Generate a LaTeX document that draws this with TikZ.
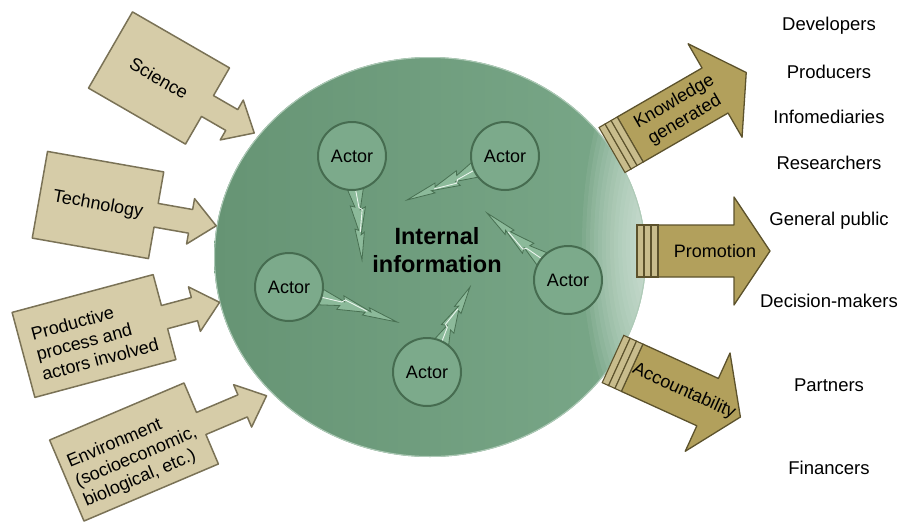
\documentclass[tikz,border=0pt]{standalone}
\usepackage{fontspec}
\setmainfont{Liberation Sans}
\usetikzlibrary{calc,shapes.geometric}
\definecolor{boxfill}{RGB}{214,204,168}
\definecolor{boxline}{RGB}{122,114,86}
\definecolor{gold}{RGB}{178,160,92}
\definecolor{goldline}{RGB}{92,82,44}
\definecolor{barfill}{RGB}{200,188,140}
\definecolor{bgD}{RGB}{102,148,116}
\definecolor{bgM}{RGB}{113,159,128}
\definecolor{bgL}{RGB}{122,168,137}
\definecolor{glow}{RGB}{235,245,238}
\definecolor{actfill}{RGB}{124,170,139}
\definecolor{actline}{RGB}{70,108,80}
\definecolor{boltfill}{RGB}{140,186,154}
\definecolor{boltline}{RGB}{72,112,82}
\tikzset{
 feedbox/.style={fill=boxfill, draw=boxline, line width=1.5pt, line join=round},
 feedtext/.style={font=\fontsize{18}{21}\selectfont, inner sep=0pt},
 outbody/.style={fill=gold, draw=goldline, line width=1.3pt, line join=round},
 outbar/.style={fill=barfill, draw=goldline, line width=1.1pt},
 outtext/.style={font=\fontsize{18}{21}\selectfont, align=center, inner sep=0pt},
 actor/.style={circle, minimum size=68pt, inner sep=0pt, fill=actfill, draw=actline, line width=2pt, font=\fontsize{18}{21}\selectfont},
 bolt/.style={fill=boltfill, draw=boltline, line width=0.8pt, line join=miter},
 audience/.style={font=\fontsize{18.5}{22}\selectfont, inner sep=0pt, anchor=base},
 core/.style={font=\bfseries\fontsize{23.5}{28}\selectfont, align=center, inner sep=0pt},
 hub/.style={ellipse, minimum width=432pt, minimum height=400pt, inner sep=0pt, left color=bgD, middle color=bgM, right color=bgL},
 glowlayer/.style={fill=glow, opacity=0.075},
}
% input arrow: name, centre, angle, half width, tip distance, text, align, text position
\newcommand\feed[8]{%
 \begin{scope}[shift={#2}, rotate=#3]
  \draw[feedbox] (-#4,-44) -- (#4,-44) -- (#4,-12) -- ({#5-26},-12) -- ({#5-26},-23) -- (#5,0) -- ({#5-26},23) -- ({#5-26},12) -- (#4,12) -- (#4,44) -- (-#4,44) -- cycle;
  \node[feedtext, transform shape, align=#7] (#1) at #8 {#6};
 \end{scope}}
% output arrow: name, start, angle, length, text
\newcommand\outarrow[5]{%
 \begin{scope}[shift={#2}, rotate=#3]
  \draw[outbody] (21,-26) -- ({#4-36},-26) -- ({#4-36},-54) -- (#4,0) -- ({#4-36},54) -- ({#4-36},26) -- (21,26) -- cycle;
  \foreach \i in {0,7,14} \draw[outbar] (\i,-26) rectangle ++(7,52);
  \node[outtext, transform shape] (#1) at (78,0) {#5};
 \end{scope}}
% lightning bolt from an actor towards a coordinate
\newcommand\zap[2]{%
 \path let \p1=(#1.center), \p2=(#2) in \pgfextra{%
   \pgfmathsetmacro\zapa{atan2(\y2-\y1,\x2-\x1)}%
   \pgfmathsetmacro\zaps{veclen(\x2-\x1,\y2-\y1)-26}%
   \global\let\zapA\zapa \global\let\zapS\zaps};
 \begin{scope}[shift={(#1.center)}, rotate=\zapA, xshift=26pt, xscale=\zapS]
  \draw[bolt] (0,-10) -- (0.36,-3) -- (0.33,-8.5) -- (0.68,-1.5) -- (0.65,-5) -- (1,0) -- (0.60,4) -- (0.62,0.5) -- (0.30,6.5) -- (0.32,2) -- (0,10) -- cycle;
  \draw[glow, line width=0.9pt] (0.05,0) -- (0.33,-2) -- (0.36,-5) -- (0.64,-1);
 \end{scope}}
\begin{document}
\begin{tikzpicture}[x=1pt,y=-1pt]
\useasboundingbox (0,0) rectangle (903,523);
\node[hub] (hub) at (430,257) {};
\begin{scope}
 \clip (430,257) ellipse [x radius=216pt, y radius=200pt];
 \foreach \r in {84,80,...,16}
  \fill[glowlayer] (666,245) ellipse [x radius=\r pt, y radius=2.6*\r pt];
 \draw[glow!50!bgM, line width=2pt] (430,257) ellipse [x radius=216pt, y radius=200pt];
\end{scope}
% inputs
\feed{sci}{(159,78)}{-30}{56}{110}{Science}{center}{(0,0)}
\feed{tech}{(98,205)}{-10}{59}{120}{Technology}{center}{(0,0)}
\feed{prod}{(94,336)}{15}{73}{130}{Productive\\process and\\actors involved}{left}{(0,3)}
\feed{env}{(134,452)}{23}{73}{144}{Environment\\(socioeconomic,\\biological, etc.)}{left}{(0,6)}
% outputs
\outarrow{know}{(612,150)}{30}{155}{Knowledge\\generated}
\outarrow{promo}{(637,251)}{0}{133}{Promotion}
\outarrow{acc}{(613,359)}{-24.5}{140}{Accountability}
% bolts
\coordinate (z1) at (362,260);
\coordinate (z2) at (407,200);
\coordinate (z3) at (487,213);
\coordinate (z4) at (397,322);
\coordinate (z5) at (470,287);
\coordinate (c1) at (352,156);
\coordinate (c2) at (505,156);
\coordinate (c3) at (568,280);
\coordinate (c4) at (289,287);
\coordinate (c5) at (427,372);
\zap{c1}{z1}
\zap{c2}{z2}
\zap{c3}{z3}
\zap{c4}{z4}
\zap{c5}{z5}
\node[actor] (a1) at (c1) {Actor};
\node[actor] (a2) at (c2) {Actor};
\node[actor] (a3) at (c3) {Actor};
\node[actor] (a4) at (c4) {Actor};
\node[actor] (a5) at (c5) {Actor};
\node[core] (info) at (437,250) {Internal\\information};
% audiences
\node[audience] (dev) at (829,30.7) {Developers};
\node[audience] (pro) at (829,78) {Producers};
\node[audience] (inf) at (829,123.5) {Infomediaries};
\node[audience] (res) at (829,169) {Researchers};
\node[audience] (gen) at (829,225) {General public};
\node[audience] (dec) at (829,307.7) {Decision-makers};
\node[audience] (par) at (829,391.7) {Partners};
\node[audience] (fin) at (829,474) {Financers};
\end{tikzpicture}
\end{document}
